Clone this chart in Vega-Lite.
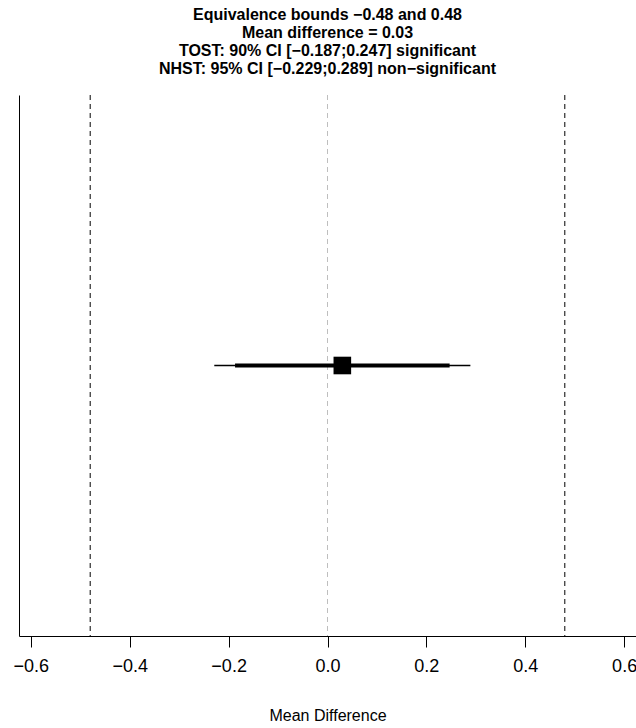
{
  "$schema": "https://vega.github.io/schema/vega-lite/v6.json",
  "width": 617,
  "height": 541,
  "autosize": {"type": "none"},
  "padding": {"left": 19, "top": 95, "right": 0, "bottom": 92},
  "background": "white",
  "title": {
    "text": ["Equivalence bounds −0.48 and 0.48", "Mean difference = 0.03", "TOST: 90% CI [−0.187;0.247] significant", "NHST: 95% CI [−0.229;0.289] non−significant"],
    "font": "Liberation Sans",
    "fontSize": 16,
    "fontWeight": "bold",
    "lineHeight": 18,
    "color": "black",
    "anchor": "middle",
    "frame": "group",
    "offset": 18
  },
  "datasets": {
    "bounds": [{"x": -0.48, "kind": "bound"}, {"x": 0.48, "kind": "bound"}],
    "zero": [{"x": 0, "kind": "zero"}],
    "ci": [{"mean": 0.03, "lo90": -0.187, "hi90": 0.247, "lo95": -0.229, "hi95": 0.289, "y": 0.5}]
  },
  "config": {
    "view": {"stroke": null},
    "axis": {
      "domainColor": "black",
      "tickColor": "black",
      "labelColor": "black",
      "titleColor": "black",
      "labelFont": "Liberation Sans",
      "titleFont": "Liberation Sans",
      "grid": false
    }
  },
  "layer": [
    {
      "data": {"name": "bounds"},
      "mark": {"type": "rule", "color": "black", "strokeWidth": 1, "strokeDash": [5, 4]},
      "encoding": {
        "x": {
          "field": "x", "type": "quantitative",
          "scale": {"domain": [-0.624, 0.624], "nice": false, "zero": false},
          "axis": {
            "values": [-0.6, -0.4, -0.2, 0.0, 0.2, 0.4, 0.6],
            "format": ".1f",
            "title": "Mean Difference",
            "tickSize": 11,
            "labelFontSize": 18,
            "labelPadding": 10,
            "titleFontSize": 16,
            "titleFontWeight": "normal",
            "titlePadding": 32,
            "labelFlush": false
          }
        }
      }
    },
    {
      "data": {"name": "zero"},
      "mark": {"type": "rule", "color": "#BEBEBE", "strokeWidth": 1, "strokeDash": [5, 4]},
      "encoding": {
        "x": {"field": "x", "type": "quantitative"}
      }
    },
    {
      "data": {"name": "ci"},
      "mark": {"type": "rule", "color": "black", "strokeWidth": 1.5},
      "encoding": {
        "x": {"field": "lo95", "type": "quantitative"},
        "x2": {"field": "hi95"},
        "y": {
          "field": "y", "type": "quantitative",
          "scale": {"domain": [0, 1], "nice": false, "zero": false},
          "axis": {"title": null, "labels": false, "ticks": false, "domain": true}
        }
      }
    },
    {
      "data": {"name": "ci"},
      "mark": {"type": "rule", "color": "black", "strokeWidth": 4},
      "encoding": {
        "x": {"field": "lo90", "type": "quantitative"},
        "x2": {"field": "hi90"},
        "y": {"field": "y", "type": "quantitative"}
      }
    },
    {
      "data": {"name": "ci"},
      "mark": {"type": "point", "shape": "square", "filled": true, "color": "black", "size": 310, "opacity": 1},
      "encoding": {
        "x": {"field": "mean", "type": "quantitative"},
        "y": {"field": "y", "type": "quantitative"}
      }
    }
  ]
}
